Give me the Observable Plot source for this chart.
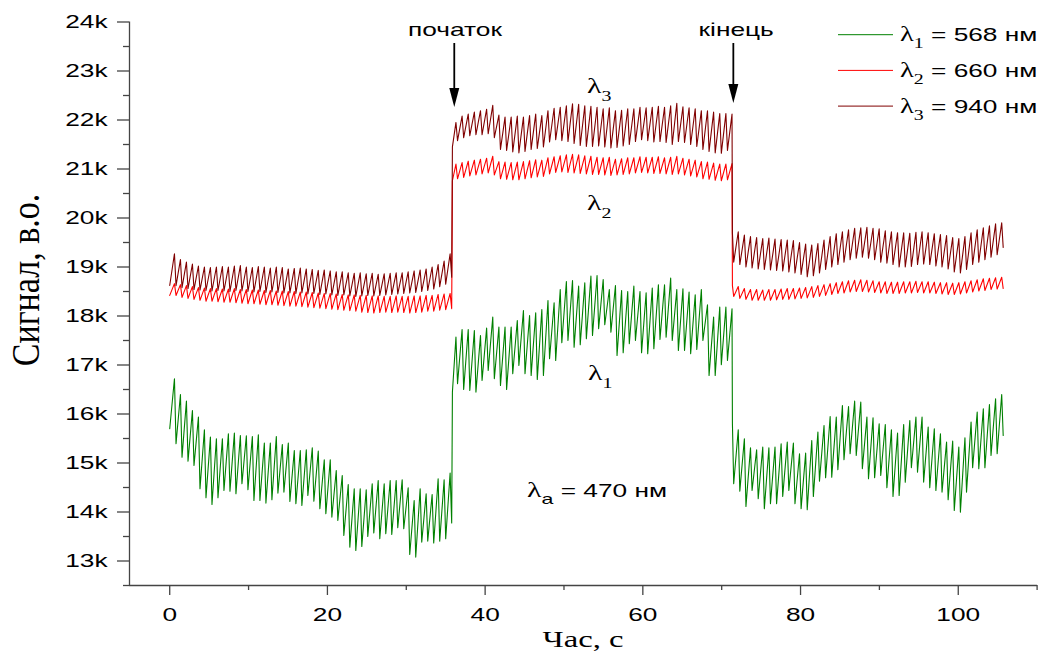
<!DOCTYPE html>
<html><head><meta charset="utf-8">
<script src="https://cdn.jsdelivr.net/npm/d3@7"></script>
<script src="https://cdn.jsdelivr.net/npm/@observablehq/plot@0.6"></script>
<style>
body{margin:0;background:#fff;}
#chart svg{display:block;}
</style></head><body><div id="chart"></div>
<script>
// ---------- data (signal, a.u.) ----------
// sampling grid of the oscillation (s)
const A_T0 = 0.6,  A_STEP = 0.76;
const B_T0 = 36.3, B_STEP = 0.778;
const C_T0 = 72.1, C_STEP = 0.777;
const FALL = 0.2;
const T_JUMP = 35.85, T_DROP = 71.36, T_END = 105.7;

// λ1 = 568 nm (green)
const g_start = 15698, g_jump = 16450, g_drop = 15800, g_end = 15562;
const gA_peaks = [16718,16398,16262,16072,15936,15678,15528,15494,15494,15596,15610,15562,15555,15542,15576,15406,15406,15542,15378,15406,15256,15256,15270,15310,15242,15066,15066,14848,14746,14562,14474,14474,14454,14576,14644,14576,14644,14644,14658,14494,14236,14474,14372,14358,14678,14658,14794];
const gA_troughs = [15392,15120,15038,14950,14474,14290,14154,14290,14440,14426,14372,14576,14454,14236,14236,14182,14250,14386,14406,14216,14168,14134,14338,14222,14066,13964,13896,13828,13522,13284,13216,13298,13502,13570,13454,13556,13542,13678,13658,13134,13080,13386,13406,13366,13406,13454,13774];
const gB_peaks = [17569,17725,17725,17705,17603,17753,17977,17773,17773,17773,17909,18113,18011,18065,18133,18317,18269,18541,18705,18725,18609,18677,18813,18827,18745,18541,18623,18521,18501,18609,18501,18473,18569,18637,18637,18773,18541,18555,18487,18433,18541,18229,17977,18181,18181,18147];
const gB_troughs = [16617,16501,16481,16447,16685,16889,16719,16583,16501,16821,16991,16821,16787,16705,16787,17127,17093,17453,17501,17365,17413,17535,17603,17739,17821,17671,17195,17249,17433,17501,17249,17229,17331,17521,17569,17501,17297,17297,17229,17317,17501,16787,16787,17005,17093];
const gC_troughs = [14576,14426,14114,14440,14270,14066,14168,14168,14318,14440,14168,14066,14046,14318,14630,14698,14712,14862,15066,15188,15154,14882,14678,14698,14746,14494,14318,14338,14610,14902,14814,14610,14494,14440,14406,14250,14032,13998,14406,14902,14882,14902,15154,15188];
const gC_peaks = [15678,15494,15310,15270,15324,15310,15324,15392,15426,15406,15188,15202,15460,15630,15766,15950,15936,16174,16154,16262,16242,15936,15922,15800,15786,15678,15610,15786,15868,15936,15936,15732,15698,15596,15426,15446,15324,15514,15834,16038,16106,16194,16310,16398];

// λ2 = 660 nm (red)
const r_start = 18421, r_jump = 20760, r_drop = 18620, r_end = 18560;
const rA_peaks = [18660,18640,18620,18600,18580,18570,18560,18560,18550,18550,18560,18540,18540,18530,18530,18520,18520,18510,18510,18500,18500,18490,18490,18480,18470,18460,18460,18450,18440,18430,18430,18420,18420,18410,18410,18400,18400,18410,18400,18400,18410,18410,18420,18420,18440,18450,18460];
const rA_troughs = [18420,18380,18360,18340,18320,18300,18300,18290,18280,18280,18270,18260,18250,18250,18240,18230,18230,18220,18210,18200,18200,18190,18180,18170,18160,18150,18140,18130,18120,18110,18100,18080,18070,18060,18070,18080,18070,18080,18070,18060,18070,18080,18100,18100,18120,18130,18150];
const rB_peaks = [21100,21130,21160,21180,21200,21220,21260,21150,21140,21130,21140,21150,21170,21190,21180,21230,21250,21270,21290,21300,21290,21270,21260,21240,21230,21240,21200,21210,21230,21230,21250,21240,21240,21250,21230,21240,21260,21220,21200,21180,21150,21140,21120,21100,21100,21110];
const rB_troughs = [20800,20830,20860,20880,20900,20920,20880,20800,20790,20780,20780,20800,20820,20840,20850,20900,20930,20940,20930,20920,20910,20900,20890,20890,20880,20870,20880,20890,20900,20920,20930,20920,20910,20910,20900,20890,20900,20880,20860,20840,20800,20790,20770,20760,20780];
const rC_troughs = [18400,18360,18340,18320,18320,18320,18320,18330,18340,18340,18350,18360,18370,18380,18400,18420,18440,18460,18470,18490,18500,18500,18490,18480,18470,18460,18460,18460,18470,18470,18480,18470,18470,18460,18450,18440,18440,18450,18470,18490,18510,18520,18540,18550];
const rC_peaks = [18600,18560,18540,18540,18530,18540,18540,18550,18560,18560,18570,18580,18600,18620,18640,18660,18680,18700,18720,18730,18740,18730,18720,18700,18700,18690,18690,18700,18700,18710,18700,18700,18690,18680,18680,18670,18680,18700,18720,18740,18760,18770,18780,18790];

// λ3 = 940 nm (dark red)
const d_start = 18623, d_jump = 21450, d_drop = 19700, d_end = 19400;
const dA_peaks = [19270,19150,19100,19060,19020,19000,18990,19000,19010,19000,19020,19030,19000,18990,19010,19000,18980,19000,18990,18960,18970,18980,18960,18950,18930,18940,18920,18900,18900,18880,18870,18880,18860,18870,18850,18860,18870,18880,18880,18900,18920,18940,18960,19000,19050,19120,19270];
const dA_troughs = [18620,18580,18560,18540,18530,18520,18510,18520,18510,18500,18520,18510,18500,18490,18500,18480,18490,18480,18470,18470,18460,18470,18450,18460,18440,18450,18430,18420,18430,18410,18400,18410,18420,18410,18420,18430,18440,18450,18460,18470,18480,18500,18520,18550,18600,18650,18790];
const dB_peaks = [21950,22080,22120,22160,22190,22220,22300,22100,22060,22060,22080,22060,22090,22120,22090,22190,22240,22260,22290,22330,22320,22290,22280,22260,22230,22250,22190,22200,22230,22230,22260,22250,22260,22280,22260,22290,22340,22270,22250,22230,22190,22190,22160,22130,22130,22120];
const dB_troughs = [21580,21640,21680,21700,21700,21720,21640,21400,21380,21350,21330,21360,21400,21420,21450,21550,21600,21580,21560,21520,21480,21460,21460,21470,21450,21430,21440,21470,21500,21560,21600,21580,21550,21560,21540,21500,21560,21540,21500,21460,21400,21360,21330,21320,21380];
const dC_troughs = [19100,19050,19000,18980,18960,18950,18940,18930,18920,18900,18880,18850,18800,18820,18880,18950,19000,19050,19100,19150,19180,19200,19180,19150,19100,19080,19050,19000,19000,19010,19050,19060,19050,19020,19000,18960,18900,18880,18950,19050,19100,19150,19200,19250];
const dC_peaks = [19720,19650,19620,19600,19580,19590,19570,19560,19550,19540,19500,19470,19450,19480,19550,19620,19680,19720,19760,19790,19800,19810,19790,19780,19740,19720,19700,19700,19690,19710,19720,19700,19680,19660,19640,19600,19580,19620,19700,19760,19800,19840,19880,19900];

const xTicks = [0, 20, 40, 60, 80, 100];
const xMinor = [10, 30, 50, 70, 90, 110];
const yTicks = d3.range(13000, 24001, 1000);
const yMinor = d3.range(12500, 24000, 1000);
const legendLabels = [
  {sub: "1", text: " = 568 нм", color: "#008000"},
  {sub: "2", text: " = 660 нм", color: "#ff0000"},
  {sub: "3", text: " = 940 нм", color: "#800000"}
];

// ---------- build series on the sampling grid ----------
function build(start, Ap, At, jump, Bp, Bt, drop, Ct, Cp, end) {
  const pts = [{t: 0, v: start}];
  Ap.forEach((p, k) => { const t = A_T0 + k * A_STEP; pts.push({t, v: p}); pts.push({t: t + FALL, v: At[k]}); });
  pts.push({t: T_JUMP, v: jump});
  Bp.forEach((p, k) => { const t = B_T0 + k * B_STEP; pts.push({t, v: p}); if (k < Bt.length) pts.push({t: t + FALL, v: Bt[k]}); });
  pts.push({t: T_DROP, v: drop});
  Cp.forEach((p, k) => { const t = C_T0 + k * C_STEP; pts.push({t: t - C_STEP + FALL, v: Ct[k]}); pts.push({t, v: p}); });
  pts.push({t: T_END, v: end});
  return pts;
}
const green = build(g_start, gA_peaks, gA_troughs, g_jump, gB_peaks, gB_troughs, g_drop, gC_troughs, gC_peaks, g_end);
const red = build(r_start, rA_peaks, rA_troughs, r_jump, rB_peaks, rB_troughs, r_drop, rC_troughs, rC_peaks, r_end);
const dark = build(d_start, dA_peaks, dA_troughs, d_jump, dB_peaks, dB_troughs, d_drop, dC_troughs, dC_peaks, d_end);

const SANS = "'Liberation Sans', Arial, sans-serif";
const SERIF = "'Liberation Serif', 'Times New Roman', serif";
const AXIS = "#444";
const K = 1.42; // horizontal stretch of the original lettering

const chart = Plot.plot({
  width: 1043, height: 656,
  marginTop: 21.5, marginRight: 6, marginBottom: 71, marginLeft: 129,
  style: {fontFamily: SANS, fontSize: "18.5px", color: "black", background: "white"},
  x: {domain: [-5.1, 110.05]},
  y: {domain: [12500, 24000]},
  marks: [
    Plot.ruleY([12500], {stroke: AXIS, strokeWidth: 1.3}),
    Plot.ruleX([-5.1], {stroke: AXIS, strokeWidth: 1.3}),
    Plot.axisX({ticks: xTicks, tickSize: 10, tickPadding: 12, label: null, stroke: AXIS, fill: "black", strokeWidth: 1.3}),
    Plot.axisX({ticks: xMinor, tickSize: 5, tickFormat: () => "", label: null, stroke: AXIS, strokeWidth: 1.3}),
    Plot.axisY({ticks: yTicks, tickSize: 12, tickPadding: 10, tickFormat: d => d / 1000 + "k", label: null, stroke: AXIS, fill: "black", strokeWidth: 1.3}),
    Plot.axisY({ticks: yMinor, tickSize: 6, tickFormat: () => "", label: null, stroke: AXIS, strokeWidth: 1.3}),
    Plot.line(green, {x: "t", y: "v", stroke: "#008000", strokeWidth: 1.1}),
    Plot.line(red, {x: "t", y: "v", stroke: "#ff0000", strokeWidth: 1.1}),
    Plot.line(dark, {x: "t", y: "v", stroke: "#800000", strokeWidth: 1.1})
  ]
});
document.getElementById("chart").append(chart);

const sx = chart.scale("x"), sy = chart.scale("y");
const X = t => sx.apply(t), Y = v => sy.apply(v);
const svg = d3.select(chart);
const g = svg.append("g").attr("class", "annotations");

function label(x, y, parts, anchor = "start") {
  const t = g.append("text").attr("x", x).attr("y", y).attr("text-anchor", anchor).attr("fill", "black");
  parts.forEach(p => t.append("tspan").attr("font-family", p.f).attr("font-size", p.s).attr("dy", p.dy || 0).text(p.t));
  return t;
}
function arrow(t, v1, v2) {
  const x = X(t), y1 = Y(v1), y2 = Y(v2);
  g.append("line").attr("x1", x).attr("x2", x).attr("y1", y1).attr("y2", y2 - 12).attr("stroke", "black").attr("stroke-width", 1.8);
  g.append("path").attr("d", `M${x - 5},${y2 - 19}L${x + 5},${y2 - 19}L${x},${y2}Z`).attr("fill", "black");
}

// start / end markers
label(X(36.24), Y(23704), [{t: "початок", f: SANS, s: 18.5}], "middle");
label(X(71.9), Y(23714), [{t: "кінець", f: SANS, s: 18.5}], "middle");
arrow(36.15, 23561, 22255);
arrow(71.54, 23561, 22337);

// curve labels
const lam = (sub, x, y) => label(x, y, [{t: "λ", f: SERIF, s: 21}, {t: sub, f: SERIF, s: 14, dy: 8}]);
lam("3", X(53.0), Y(22541));
lam("2", X(53.0), Y(20153));
lam("1", X(53.1), Y(16684));
label(X(45.38), Y(14296), [{t: "λ", f: SERIF, s: 21}, {t: "a", f: SANS, s: 15, dy: 7}, {t: " = 470 нм", f: SANS, s: 18.5, dy: -7}]);

// legend
legendLabels.forEach((d, i) => {
  const y = 34.7 + i * 35.7;
  g.append("line").attr("x1", 838).attr("x2", 893).attr("y1", y).attr("y2", y).attr("stroke", d.color).attr("stroke-width", 1);
  label(900, y + 6.5, [{t: "λ", f: SERIF, s: 20}, {t: d.sub, f: SERIF, s: 14, dy: 7}, {t: d.text, f: SANS, s: 18.5, dy: -7}]);
});

// axis titles
label(583, 647, [{t: "Час, с", f: SERIF, s: 23}], "middle");
const yt = g.append("text").attr("text-anchor", "middle").attr("font-family", SERIF).attr("font-size", 34)
  .attr("transform", "translate(39,280) rotate(-90) scale(1,1.2)").attr("fill", "black").attr("data-nostretch", "1").text("Сигнал, в.о.");

// widen the lettering like in the original figure
chart.querySelectorAll("text").forEach(el => {
  if (el.getAttribute("data-nostretch")) return;
  const L = el.getComputedTextLength();
  if (L > 0) { el.setAttribute("textLength", L * K); el.setAttribute("lengthAdjust", "spacingAndGlyphs"); }
});
</script></body></html>
